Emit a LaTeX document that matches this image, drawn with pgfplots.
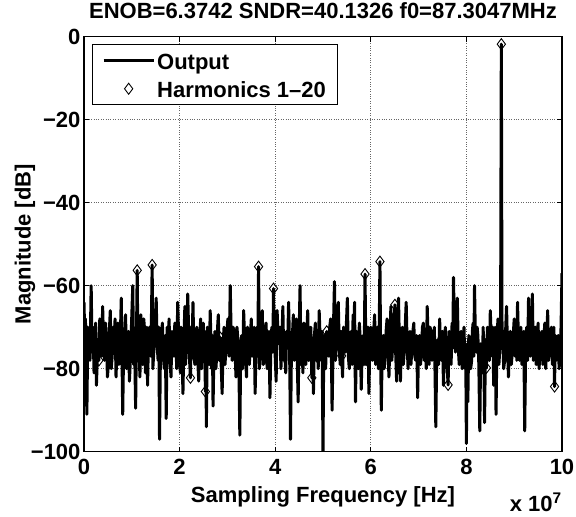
\documentclass[border=0pt]{standalone}
\usepackage{pgfplots}
\pgfplotsset{compat=1.18}
\usepackage{pgfplotstable}
\usepackage{fontspec}
\setmainfont{Liberation Sans}

% spectrum, x in units of 1e7 Hz
\pgfplotstableread{
f mag
0.00 -64
0.015 -72
0.03 -68
0.045 -79
0.06 -91
0.08 -70
0.10 -72
0.125 -78
0.15 -60
0.17 -76
0.19 -70
0.21 -81
0.23 -75
0.245 -69
0.26 -84
0.29 -73
0.3125 -78
0.33 -68
0.35 -70
0.37 -77
0.39 -65
0.41 -74
0.43 -78
0.45 -69
0.47 -73
0.49 -82
0.51 -79
0.53 -71
0.55 -66
0.57 -80
0.59 -77
0.61 -70
0.63 -74
0.65 -68
0.67 -82
0.69 -75
0.71 -69
0.73 -79
0.75 -76
0.765 -70
0.78 -63
0.795 -77
0.81 -91
0.83 -74
0.85 -72
0.87 -67
0.89 -80
0.91 -73
0.93 -71
0.95 -83
0.97 -78
0.995 -69
1.02 -60
1.04 -79
1.06 -75
1.08 -89.5
1.10 -70
1.113 -56.3
1.13 -78
1.15 -74
1.17 -82
1.19 -67
1.21 -73
1.23 -79
1.25 -68
1.27 -71
1.285 -81
1.30 -77
1.315 -70
1.33 -84
1.35 -72
1.37 -70
1.40 -77
1.426 -55
1.44 -80
1.46 -76
1.485 -70
1.51 -63
1.53 -74
1.55 -78
1.565 -70
1.58 -97
1.60 -75
1.62 -72
1.64 -69
1.66 -77
1.68 -80
1.70 -72
1.72 -92
1.74 -70
1.76 -74
1.78 -68
1.80 -78
1.82 -82
1.84 -71
1.86 -75
1.88 -77
1.90 -69
1.92 -73
1.94 -80
1.96 -64
1.98 -72
2.00 -76
2.015 -81
2.03 -70
2.05 -75
2.07 -86
2.09 -73
2.11 -65
2.125 -79
2.14 -74
2.155 -70
2.17 -62
2.20 -76
2.227 -82.2
2.245 -70
2.26 -75
2.28 -64
2.30 -77
2.32 -79
2.34 -72
2.36 -70
2.38 -78
2.40 -83
2.42 -74
2.44 -68
2.46 -80
2.48 -72
2.495 -69
2.51 -77
2.525 -71
2.539 -85.5
2.55 -76
2.56 -94
2.58 -70
2.60 -74
2.62 -79
2.64 -66
2.655 -73
2.67 -80
2.685 -72
2.70 -89
2.72 -75
2.74 -71
2.76 -80
2.78 -76
2.795 -70
2.81 -67
2.83 -78
2.852 -72.5
2.87 -79
2.89 -86
2.91 -74
2.93 -70
2.95 -79
2.97 -75
2.99 -71
3.01 -68
3.035 -77
3.06 -60
3.08 -73
3.10 -78
3.12 -70
3.14 -71
3.16 -76
3.18 -82
3.20 -70
3.22 -73
3.24 -79
3.26 -96
3.28 -74
3.30 -72
3.32 -80
3.34 -66
3.36 -73
3.38 -77
3.40 -82
3.42 -70
3.44 -74
3.46 -79
3.48 -72
3.50 -68
3.52 -77
3.54 -74
3.56 -70
3.58 -86
3.60 -75
3.62 -70
3.635 -77
3.652 -55.4
3.67 -80
3.69 -74
3.71 -70
3.73 -66
3.75 -79
3.77 -78
3.79 -72
3.81 -69
3.83 -80
3.85 -75
3.87 -71
3.89 -87
3.91 -74
3.93 -70
3.95 -76
3.965 -60.7
3.98 -73
4.00 -77
4.02 -83
4.04 -66
4.06 -72
4.08 -74
4.10 -70
4.12 -80
4.14 -73
4.16 -65
4.18 -78
4.20 -76
4.22 -81
4.24 -71
4.26 -75
4.28 -64
4.30 -74
4.32 -97
4.34 -75
4.36 -72
4.38 -67
4.40 -78
4.42 -73
4.44 -68
4.46 -77
4.48 -88
4.50 -72
4.52 -60
4.54 -79
4.56 -74
4.58 -81
4.60 -69
4.62 -74
4.64 -79
4.66 -72
4.68 -66
4.70 -78
4.72 -75
4.745 -70
4.766 -82.2
4.78 -74
4.80 -86
4.82 -72
4.84 -69
4.86 -78
4.88 -74
4.90 -80
4.92 -66
4.94 -73
4.96 -78
4.98 -71
5.00 -100
5.015 -76
5.03 -72
5.055 -80
5.078 -71
5.10 -75
5.12 -77
5.14 -70
5.16 -68
5.175 -76
5.19 -90
5.215 -72
5.24 -59
5.26 -78
5.28 -74
5.30 -70
5.32 -64
5.34 -75
5.36 -79
5.375 -71
5.391 -76.9
5.41 -82
5.43 -70
5.45 -73
5.47 -76
5.49 -69
5.51 -63
5.53 -77
5.55 -80
5.57 -74
5.59 -71
5.61 -79
5.63 -67
5.645 -75
5.66 -64
5.67 -77
5.68 -88
5.70 -71
5.72 -74
5.74 -80
5.76 -69
5.78 -73
5.80 -85
5.82 -75
5.84 -72
5.86 -79
5.879 -57.2
5.90 -79
5.92 -75
5.94 -70
5.96 -86
5.98 -74
6.00 -70
6.02 -76
6.04 -78
6.06 -71
6.08 -67
6.10 -79
6.12 -73
6.14 -70
6.16 -80
6.175 -72
6.191 -54.2
6.205 -76
6.22 -90
6.24 -74
6.26 -72
6.28 -80
6.30 -77
6.32 -71
6.34 -68
6.36 -76
6.38 -82
6.40 -73
6.42 -65
6.44 -78
6.46 -74
6.48 -70
6.504 -64.6
6.52 -76
6.54 -83
6.56 -71
6.58 -63
6.60 -75
6.62 -83
6.64 -74
6.66 -70
6.68 -79
6.70 -76
6.72 -70
6.74 -64
6.76 -74
6.78 -80
6.80 -73
6.82 -71
6.84 -79
6.86 -75
6.88 -71
6.90 -69
6.92 -77
6.94 -78
6.96 -72
6.98 -87
7.00 -74
7.02 -72
7.04 -79
7.06 -76
7.08 -70
7.10 -69
7.12 -78
7.14 -74
7.16 -80
7.18 -65
7.20 -73
7.22 -79
7.24 -70
7.26 -71
7.28 -78
7.305 -75
7.33 -70
7.36 -94
7.38 -76
7.40 -73
7.42 -79
7.44 -68
7.46 -75
7.48 -78
7.50 -71
7.52 -84
7.54 -74
7.56 -70
7.59 -78
7.617 -83.9
7.64 -71
7.66 -74
7.68 -79
7.70 -69
7.715 -75
7.73 -58
7.75 -72
7.77 -76
7.79 -70
7.81 -63
7.83 -75
7.85 -79
7.87 -73
7.89 -71
7.91 -80
7.93 -75
7.95 -70
7.97 -80
7.985 -74
8.00 -98
8.015 -76
8.03 -88
8.05 -72
8.07 -73
8.09 -80
8.11 -78
8.125 -71
8.14 -69
8.155 -77
8.17 -60
8.19 -74
8.21 -76
8.225 -70
8.24 -72
8.26 -79
8.28 -95
8.30 -74
8.32 -75
8.335 -81
8.35 -70
8.365 -76
8.38 -93
8.40 -73
8.418 -79.8
8.44 -70
8.46 -72
8.48 -78
8.50 -66
8.52 -73
8.54 -77
8.555 -70
8.57 -84
8.585 -74
8.60 -70
8.61 -78
8.62 -91
8.64 -73
8.66 -68
8.68 -79
8.70 -75
8.715 -71
8.73047 -1.8
8.745 -70
8.76 -72
8.78 -80
8.80 -78
8.82 -71
8.84 -65
8.86 -75
8.88 -82
8.90 -74
8.92 -71
8.94 -79
8.96 -76
8.98 -72
9.00 -68
9.02 -77
9.043 -71.8
9.055 -78
9.07 -64
9.09 -74
9.11 -78
9.125 -72
9.14 -70
9.16 -79
9.18 -75
9.20 -71
9.22 -95
9.24 -74
9.26 -70
9.28 -78
9.30 -63
9.32 -72
9.34 -77
9.36 -71
9.38 -62
9.40 -78
9.42 -74
9.44 -70
9.46 -79
9.48 -73
9.50 -69
9.52 -80
9.54 -76
9.56 -72
9.58 -71
9.60 -79
9.62 -73
9.64 -69
9.66 -80
9.68 -74
9.70 -66
9.72 -78
9.74 -75
9.76 -71
9.78 -70
9.80 -79
9.82 -74
9.83 -70
9.844 -84.3
9.86 -72
9.88 -78
9.90 -73
9.92 -72
9.94 -80
9.96 -76
9.98 -70
10.00 -57
}\spectrum

% harmonics 1-20
\pgfplotstableread{
f mag
8.73047 -1.8
2.539 -85.5
6.191 -54.2
5.078 -71.0
3.652 -55.4
7.617 -83.9
1.113 -56.3
9.844 -84.3
1.426 -55.0
7.305 -75.0
3.965 -60.7
4.766 -82.2
6.504 -64.6
2.227 -82.2
9.043 -71.8
0.3125 -78.0
8.418 -79.8
2.852 -72.5
5.879 -57.2
5.391 -76.9
}\harm

\newcommand{\bigbf}{\fontsize{22}{26}\selectfont\bfseries}
\pgfplotsset{
  lineleg/.style={legend image code/.code={\draw[##1] (0pt,0pt) -- (50pt,0pt);}},
  markleg/.style={legend image code/.code={%
    \path[draw=none] (0pt,0pt) -- (50pt,0pt);
    \path[draw=none, mark=diamond, mark size=5.5pt,
      mark options={fill=white, draw=black, line width=0.9pt, solid}]
      plot coordinates {(25pt,0pt)};}},
}

\begin{document}
\begin{tikzpicture}
\begin{axis}[
  scale only axis,
  width=478pt, height=415pt,
  xmin=0, xmax=10, ymin=-100, ymax=0,
  xtick={0,2,4,6,8,10},
  ytick={-100,-80,-60,-40,-20,0},
  yticklabels={−100,−80,−60,−40,−20,0},
  /pgf/number format/assume math mode=true,
  ticklabel style={font=\bigbf},
  xticklabel style={yshift=-4.4pt},
  tick align=inside,
  major tick length=5pt,
  tick style={black, line width=0.8pt},
  grid=major,
  grid style={dotted, black!60, line width=0.7pt},
  axis line style={line width=1.4pt},
  title={ENOB=6.3742 SNDR=40.1326 f0=87.3047MHz},
  title style={font=\bigbf, at={(axis description cs:0.5,1.0282)}, anchor=base},
  xlabel={Sampling Frequency [Hz]},
  xlabel style={font=\bigbf, at={(axis description cs:0.5,-0.1236)}, anchor=base},
  ylabel={Magnitude [dB]},
  ylabel style={font=\bigbf, at={(axis description cs:-0.1115,0.5)}, anchor=base},
  legend style={at={(axis description cs:0.016,0.982)}, anchor=north west,
    font=\bigbf, draw=black, line width=1pt, inner xsep=10pt, inner ysep=4pt,
    row sep=3.3pt,
    cells={anchor=west, inner sep=1pt, text height=19pt, text depth=4pt}},
  legend cell align=left,
]
\addplot[black, line width=3pt, line join=round, lineleg]
  table[x=f, y=mag] {\spectrum};
\addlegendentry{Output}
\addplot[only marks, mark=diamond, mark size=5.5pt,
  mark options={fill=white, draw=black, line width=0.9pt, solid}, markleg]
  table[x=f, y=mag] {\harm};
\addlegendentry{Harmonics 1--20}
\end{axis}
\node[font=\bigbf, anchor=base east, inner sep=0pt] at ([yshift=-59.5pt]current axis.south east) {x 10\textsuperscript{7}};
\pgfresetboundingbox
\path ([xshift=-84pt,yshift=-65pt]current axis.south west) rectangle ([xshift=14pt,yshift=36.7pt]current axis.north east);
\end{tikzpicture}
\end{document}
